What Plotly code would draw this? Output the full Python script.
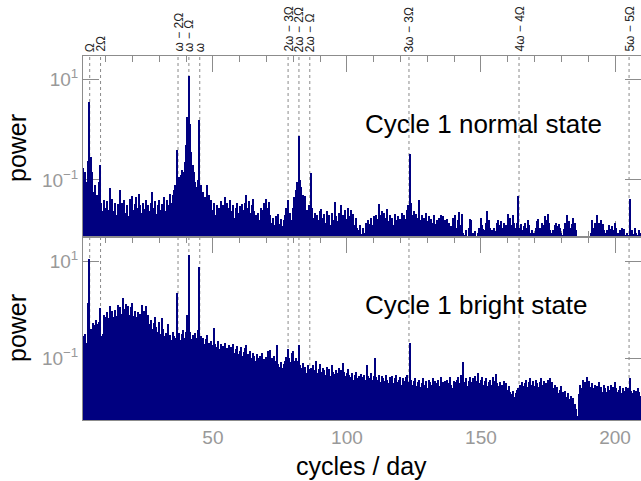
import numpy as np
import plotly.graph_objects as go
from plotly.subplots import make_subplots

# Frequency grid of the periodograms (cycles / day)
freq_start = 1.5
freq_step = 0.5

# log10(power), Cycle 1 normal state, one value per 0.5 c/d bin from 1.5 c/d
normal_log10 = [
    -0.76, -0.92, -0.85, -1.05, -0.62, 0.55, -0.55, -0.85, -1.25, -1.10,   # 1.5
    -1.38, -1.30, -1.05, -0.70, -1.45, -1.62, -1.40, -1.55, -1.42, -1.60,  # 6.5
    -1.16, -1.50, -1.38, -1.62, -1.45, -1.70, -1.48, -1.60, -1.20, -1.45,  # 11.5
    -1.55, -1.40, -1.65, -1.50, -1.72, -1.38, -1.45, -1.33, -1.60, -1.48,  # 16.5
    -1.35, -1.55, -1.28, -1.50, -1.65, -1.45, -1.58, -1.40, -1.70, -1.50,  # 21.5
    -1.62, -1.45, -1.25, -1.55, -1.42, -1.68, -1.50, -1.40, -1.60, -1.48,  # 26.5
    -1.55, -1.35, -1.62, -1.40, -1.50, -1.28, -1.45, -1.30, -1.20, -1.10,  # 31.5
    -0.41, -1.05, -0.95, -0.90, -0.80, -0.85, -0.65, -0.30, 0.25, 1.07,    # 36.5
    0.10, -0.45, -0.70, -0.85, -1.05, -1.15, -1.00, 0.19, -1.10, -1.30,    # 41.5
    -1.25, -1.35, -1.45, -1.10, -1.30, -1.55, -1.40, -1.60, -1.45, -1.70,  # 46.5
    -1.50, -1.65, -1.55, -1.42, -1.68, -1.50, -1.35, -1.60, -1.45, -1.55,  # 51.5
    -1.40, -1.62, -1.50, -1.75, -1.55, -1.45, -1.65, -1.52, -1.70, -1.48,  # 56.5
    -1.60, -1.45, -1.30, -1.55, -1.42, -1.65, -1.50, -1.38, -1.62, -1.70,  # 61.5
    -1.75, -1.65, -1.80, -1.55, -1.60, -1.45, -1.50, -1.38, -1.55, -1.43,  # 66.5
    -1.70, -1.85, -1.75, -1.90, -1.72, -1.82, -1.68, -1.88, -1.78, -1.92,  # 71.5
    -1.80, -1.70, -1.55, -1.40, -1.75, -1.65, -1.80, -1.55, -1.35, -1.20,  # 76.5
    -1.05, -0.13, -1.00, -1.15, -1.30, -1.45, -1.32, -1.60, -1.65, -1.50,  # 81.5
    -0.86, -1.55, -1.75, -1.65, -1.85, -1.70, -1.80, -1.62, -1.58, -1.75,  # 86.5
    -1.68, -1.85, -1.62, -1.78, -1.70, -1.90, -1.65, -1.80, -1.43, -1.72,  # 91.5
    -1.82, -1.65, -1.75, -1.50, -1.70, -1.85, -1.60, -1.78, -1.55, -1.72,  # 96.5
    -1.60, -1.80, -1.68, -1.90, -1.75, -1.95, -2.00, -1.90, -2.08, -1.95,  # 101.5
    -2.05, -1.85, -1.95, -1.80, -1.88, -1.75, -1.90, -1.72, -1.85, -1.70,  # 106.5
    -1.78, -1.47, -1.70, -1.62, -1.80, -1.65, -1.75, -1.58, -1.82, -1.70,  # 111.5
    -1.85, -1.75, -1.90, -1.68, -1.80, -1.72, -1.88, -1.78, -1.65, -1.82,  # 116.5
    -1.70, -1.78, -1.60, -1.50, -0.49, -1.45, -1.70, -1.62, -1.80, -1.68,  # 121.5
    -1.75, -1.40, -1.80, -1.70, -1.85, -1.75, -1.65, -1.82, -1.72, -1.90,  # 126.5
    -1.78, -1.85, -1.70, -1.88, -1.80, -1.95, -1.75, -1.70, -1.85, -1.72,  # 131.5
    -1.80, -1.90, -1.78, -1.85, -2.00, -1.92, -1.75, -1.85, -1.70, -1.95,  # 136.5
    -1.80, -1.63, -1.90, -1.68, -2.05, -2.10, -2.00, -2.12, -1.95, -1.78,  # 141.5
    -1.80, -2.05, -2.10, -2.02, -2.12, -2.05, -1.95, -1.75, -1.90, -1.98,  # 146.5
    -2.00, -1.85, -1.62, -1.80, -1.95, -2.00, -2.05, -1.95, -2.02, -1.85,  # 151.5
    -1.80, -1.90, -1.82, -1.95, -1.85, -2.00, -1.90, -1.68, -1.85, -1.75,  # 156.5
    -1.90, -1.70, -1.85, -1.95, -1.85, -1.33, -1.95, -1.88, -2.00, -1.92,  # 161.5
    -1.85, -1.95, -1.80, -1.90, -2.05, -2.00, -2.10, -2.05, -1.95, -1.82,  # 166.5
    -1.78, -1.95, -2.05, -1.85, -1.90, -1.72, -1.80, -1.68, -1.85, -2.00,  # 171.5
    -2.05, -2.00, -1.90, -1.85, -1.92, -1.88, -1.95, -2.05, -2.10, -1.98,  # 176.5
    -1.85, -1.70, -1.90, -1.82, -1.95, -1.88, -1.75, -1.85, -2.00, -2.12,  # 181.5
    -2.15, -2.20, -2.18, -2.15, -2.20, -2.12, -2.20, -2.18, -2.15, -2.05,  # 186.5
    -1.80, -1.95, -1.85, -1.90, -1.70, -1.85, -1.95, -1.80, -1.88, -2.00,  # 191.5
    -2.05, -2.00, -2.08, -1.90, -1.98, -1.92, -2.00, -1.85, -1.95, -2.05,  # 196.5
    -2.08, -2.00, -1.95, -2.02, -1.98, -2.10, -2.05, -2.10, -1.39, -2.05,  # 201.5
    -2.00, -2.08, -1.95, -2.05, -2.10, -2.00, -2.05, -1.98,                # 206.5
]

# log10(power), Cycle 1 bright state
bright_log10 = [
    -0.55, -0.62, -0.50, -0.68, 0.13, 1.06, -0.40, -0.65, -0.28, -0.32,    # 1.5
    -0.22, -0.30, -0.25, 0.03, -0.55, -0.50, -0.10, -0.15, -0.05, -0.18,   # 6.5
    0.08, -0.10, -0.02, -0.15, 0.00, -0.12, 0.10, -0.05, 0.05, -0.08,      # 11.5
    0.24, 0.02, 0.12, -0.05, 0.08, -0.10, 0.05, 0.13, -0.12, -0.02,        # 16.5
    -0.15, -0.05, -0.20, -0.08, 0.10, -0.12, -0.02, 0.08, -0.18, -0.10,    # 21.5
    -0.30, -0.22, -0.40, -0.28, -0.15, -0.35, -0.45, -0.25, -0.50, -0.18,  # 26.5
    -0.40, -0.55, -0.48, -0.60, -0.30, -0.52, -0.62, -0.45, -0.55, -0.58,  # 31.5
    0.35, -0.55, -0.48, -0.62, -0.50, -0.42, -0.58, -0.45, -0.10, 1.13,    # 36.5
    -0.45, -0.60, -0.52, -0.65, -0.48, -0.58, -0.42, 0.88, -0.55, -0.62,   # 41.5
    -0.58, -0.70, -0.60, -0.52, -0.68, -0.75, -0.65, -0.72, -0.37, -0.70,  # 46.5
    -0.78, -0.65, -0.82, -0.70, -0.85, -0.75, -0.68, -0.88, -0.80, -0.72,  # 51.5
    -0.85, -0.78, -0.70, -0.90, -0.82, -0.75, -0.92, -0.85, -0.78, -0.95,  # 56.5
    -0.88, -0.80, -0.72, -0.92, -0.98, -0.85, -1.00, -0.90, -0.95, -1.05,  # 61.5
    -0.92, -1.00, -0.95, -1.08, -0.90, -1.02, -1.10, -0.98, -0.85, -1.05,  # 66.5
    -0.83, -1.00, -1.10, -0.95, -1.05, -0.72, -1.12, -1.18, -1.08, -1.20,  # 71.5
    -1.12, -1.05, -0.98, -0.81, -1.00, -1.08, -0.90, -0.85, -1.05, -1.00,  # 76.5
    -1.05, -0.72, -1.15, -1.20, -1.10, -1.25, -1.18, -1.30, -1.15, -1.22,  # 81.5
    -1.20, -1.28, -1.15, -1.25, -1.05, -1.30, -1.22, -1.12, -1.28, -1.20,  # 86.5
    -1.25, -1.35, -1.18, -1.30, -1.22, -1.38, -1.15, -1.28, -1.32, -1.25,  # 91.5
    -1.30, -1.20, -1.35, -1.25, -1.10, -1.28, -1.38, -1.30, -1.22, -1.35,  # 96.5
    -1.40, -1.30, -1.45, -1.35, -1.28, -1.42, -1.38, -1.45, -1.32, -1.40,  # 101.5
    -1.35, -1.45, -1.15, -1.38, -1.42, -1.30, -1.45, -1.38, -1.00, -1.40,  # 106.5
    -1.45, -1.35, -1.50, -1.38, -1.42, -1.48, -1.35, -1.45, -1.52, -1.40,  # 111.5
    -1.48, -1.38, -1.52, -1.42, -1.35, -1.50, -1.45, -1.40, -1.55, -1.42,  # 116.5
    -1.48, -1.40, -1.35, -1.50, -0.68, -1.45, -1.55, -1.48, -1.42, -1.58,  # 121.5
    -1.50, -1.45, -1.60, -1.52, -1.42, -1.55, -1.48, -1.62, -1.45, -1.50,  # 126.5
    -1.55, -1.42, -1.60, -1.48, -1.52, -1.45, -1.58, -1.40, -1.55, -1.50,  # 131.5
    -1.48, -1.58, -1.45, -1.52, -1.40, -1.55, -1.62, -1.48, -1.50, -1.45,  # 136.5
    -1.40, -1.52, -1.35, -1.45, -1.07, -1.50, -1.42, -1.58, -1.48, -1.40,  # 141.5
    -1.50, -1.42, -1.55, -1.38, -1.48, -1.30, -1.52, -1.45, -1.40, -1.55,  # 146.5
    -1.48, -1.42, -1.58, -1.50, -1.45, -1.55, -1.40, -1.48, -1.32, -1.52,  # 151.5
    -1.58, -1.50, -1.62, -1.55, -1.48, -1.60, -1.52, -1.65, -1.58, -1.70,  # 156.5
    -1.75, -1.68, -1.80, -1.72, -1.65, -1.62, -1.55, -1.60, -1.50, -1.58,  # 161.5
    -1.52, -1.45, -1.60, -1.50, -1.42, -1.55, -1.48, -1.58, -1.45, -1.52,  # 166.5
    -1.60, -1.50, -1.42, -1.55, -1.48, -1.60, -1.52, -1.45, -1.58, -1.42,  # 171.5
    -1.50, -1.62, -1.55, -1.68, -1.60, -1.72, -1.65, -1.58, -1.70, -1.75,  # 176.5
    -1.68, -1.80, -1.72, -1.85, -1.78, -1.90, -1.82, -1.95, -2.05, -2.20,  # 181.5
    -1.75, -1.55, -1.62, -1.45, -1.58, -1.50, -1.40, -1.55, -1.48, -1.60,  # 186.5
    -1.52, -1.62, -1.55, -1.68, -1.58, -1.50, -1.65, -1.60, -1.70, -1.55,  # 191.5
    -1.62, -1.70, -1.58, -1.65, -1.55, -1.68, -1.60, -1.50, -1.62, -1.70,  # 196.5
    -1.65, -1.58, -1.72, -1.62, -1.68, -1.60, -1.70, -1.62, -1.42, -1.68,  # 201.5
    -1.72, -1.65, -1.75, -1.68, -1.62, -1.70, -1.78, -1.65,                # 206.5
]

# Orbital / spin sideband frequencies (cycles / day) and their labels
line_freqs = [4.05, 8.1, 37.0, 41.05, 45.1, 78.05, 82.1, 86.15, 123.15, 164.2, 205.25]
line_labels = ["Ω", "2Ω", "ω − 2Ω", "ω − Ω", "ω", "2ω − 3Ω", "2ω − 2Ω",
               "2ω − Ω", "3ω − 3Ω", "4ω − 4Ω", "5ω − 5Ω"]

panel_titles = ["Cycle 1 normal state", "Cycle 1 bright state"]
x_tick_vals = [50, 100, 150, 200]
y_tick_vals = [0.1, 10]
y_tick_text = ["10<sup>−1</sup>", "10<sup>1</sup>"]

FONT = "Liberation Sans"
NAVY = "#000080"
GREY = "#8c8c8c"
TICK_GREY = "#999999"

W, H = 641, 481
M_L, M_R, M_T, M_B = 83, 0, 56, 61
h_top, h_bot = 181, 183
plot_h = h_top + h_bot
plot_w = W - M_L - M_R

fig = make_subplots(rows=2, cols=1, shared_xaxes=True, vertical_spacing=0,
                    row_heights=[h_top / plot_h, h_bot / plot_h])

for row, vals in ((1, normal_log10), (2, bright_log10)):
    f = freq_start + freq_step * np.arange(len(vals))
    fig.add_trace(go.Bar(x=f, y=10 ** np.array(vals), width=freq_step,
                         marker=dict(color=NAVY, line=dict(width=0)),
                         showlegend=False, hoverinfo="skip"),
                  row=row, col=1)

fig.update_layout(
    width=W, height=H,
    margin=dict(l=M_L, r=M_R, t=M_T, b=M_B),
    paper_bgcolor="white", plot_bgcolor="white",
    bargap=0, font=dict(family=FONT, color="black"),
)

xaxis_common = dict(
    range=[1.55, 209.7], showline=True, linecolor=GREY, linewidth=1,
    mirror="ticks", ticks="inside", ticklen=16, tickcolor=GREY, tickwidth=1,
    tickmode="array", tickvals=x_tick_vals, showgrid=False, zeroline=False,
    minor=dict(ticks="inside", ticklen=6, dtick=10, tick0=0, tickcolor=GREY, showgrid=False),
    layer="below traces",
    tickfont=dict(family=FONT, size=19, color=TICK_GREY),
)
fig.update_xaxes(**xaxis_common)
fig.update_xaxes(showticklabels=False, row=1, col=1)
fig.update_xaxes(showticklabels=True, row=2, col=1)

yaxis_common = dict(
    type="log", showline=True, linecolor=GREY, linewidth=1, mirror="ticks",
    ticks="inside", ticklen=16, tickcolor=GREY, tickwidth=1,
    tickmode="array", tickvals=y_tick_vals, ticktext=y_tick_text,
    showgrid=False, zeroline=False, layer="below traces",
    tickfont=dict(family=FONT, size=19, color=TICK_GREY),
)
fig.update_yaxes(**yaxis_common)
fig.update_yaxes(range=[-2.135, 1.46], row=1, col=1)
fig.update_yaxes(range=[-2.28, 1.505], row=2, col=1)

# dotted markers for the sideband frequencies, spanning both panels
for fx in line_freqs:
    fig.add_shape(type="line", xref="x", yref="paper", x0=fx, x1=fx, y0=0, y1=1,
                  line=dict(color="#8a8a8a", width=1, dash="dot"), layer="below")

def py_to_paper(py):
    return (H - M_B - py) / plot_h

def px_to_paper(px):
    return (px - M_L) / plot_w

annotations = []
for fx, lab in zip(line_freqs, line_labels):
    annotations.append(dict(x=fx, xref="x", y=py_to_paper(54), yref="paper",
                            text=lab, textangle=-90, showarrow=False,
                            xanchor="center", yanchor="bottom",
                            font=dict(family=FONT, size=12, color="#222222")))

annotations.append(dict(x=px_to_paper(363), y=py_to_paper(123.5), xref="paper", yref="paper",
                        text=panel_titles[0], showarrow=False, xanchor="left", yanchor="middle",
                        font=dict(family=FONT, size=26, color="black")))
annotations.append(dict(x=px_to_paper(363), y=py_to_paper(305), xref="paper", yref="paper",
                        text=panel_titles[1], showarrow=False, xanchor="left", yanchor="middle",
                        font=dict(family=FONT, size=26, color="black")))

for py in (148, 328):
    annotations.append(dict(x=px_to_paper(17), y=py_to_paper(py), xref="paper", yref="paper",
                            text="power", textangle=-90, showarrow=False,
                            xanchor="center", yanchor="middle",
                            font=dict(family=FONT, size=25, color="black")))

annotations.append(dict(x=px_to_paper(361), y=py_to_paper(466), xref="paper", yref="paper",
                        text="cycles / day", showarrow=False,
                        xanchor="center", yanchor="middle",
                        font=dict(family=FONT, size=25, color="black")))

fig.update_layout(annotations=annotations)

fig.write_html("out.html")
